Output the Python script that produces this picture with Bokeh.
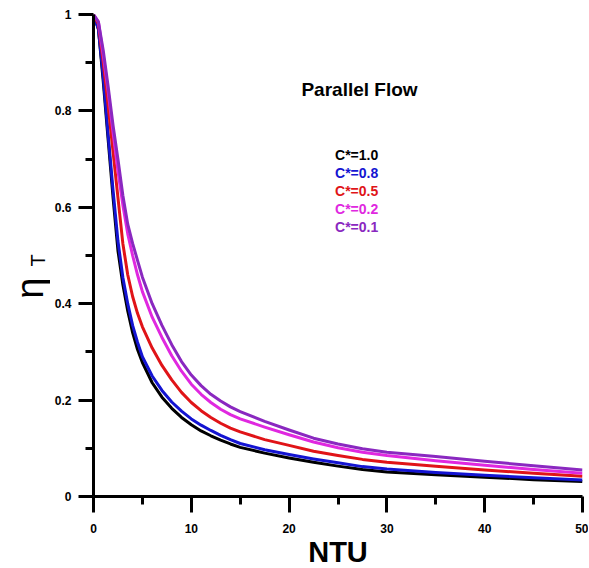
import math
from bokeh.plotting import figure
from bokeh.models import Range1d, FixedTicker, Label
from bokeh.layouts import row
from bokeh.embed import file_html
from bokeh.resources import INLINE

# ---- data ----
ntu = [0, 0.5, 1, 1.5, 2, 2.5, 3, 3.5, 4, 4.5, 5, 6, 7, 8, 9, 10, 11, 12, 13, 14, 15,
       17.5, 20, 22.5, 25, 27.5, 30, 35, 40, 45, 50]
eta_c10 = [1.0, 0.97, 0.86, 0.74, 0.62, 0.51, 0.44, 0.385, 0.34, 0.305, 0.278, 0.236, 0.206, 0.183, 0.164, 0.149, 0.136, 0.126, 0.117, 0.109, 0.102,
           0.090, 0.080, 0.071, 0.063, 0.056, 0.051, 0.045, 0.040, 0.035, 0.031]
eta_c08 = [1.0, 0.97, 0.87, 0.75, 0.635, 0.53, 0.455, 0.40, 0.355, 0.32, 0.29, 0.25, 0.22, 0.196, 0.177, 0.161, 0.148, 0.137, 0.127, 0.118, 0.110,
           0.097, 0.087, 0.078, 0.070, 0.062, 0.057, 0.050, 0.044, 0.039, 0.034]
eta_c05 = [1.0, 0.98, 0.90, 0.81, 0.715, 0.62, 0.525, 0.46, 0.415, 0.38, 0.352, 0.308, 0.272, 0.242, 0.216, 0.195, 0.178, 0.164, 0.152, 0.142, 0.134,
           0.118, 0.106, 0.094, 0.085, 0.077, 0.071, 0.063, 0.055, 0.048, 0.042]
eta_c02 = [1.0, 0.985, 0.915, 0.84, 0.755, 0.675, 0.605, 0.545, 0.50, 0.46, 0.425, 0.372, 0.33, 0.292, 0.26, 0.233, 0.212, 0.195, 0.181, 0.17, 0.161,
           0.144, 0.128, 0.113, 0.101, 0.092, 0.085, 0.074, 0.065, 0.056, 0.048]
eta_c01 = [1.0, 0.985, 0.925, 0.85, 0.77, 0.70, 0.625, 0.565, 0.525, 0.49, 0.455, 0.40, 0.355, 0.315, 0.28, 0.252, 0.23, 0.212, 0.198, 0.186, 0.176,
           0.156, 0.138, 0.121, 0.109, 0.099, 0.092, 0.083, 0.073, 0.064, 0.055]

series_labels = ["C*=1.0", "C*=0.8", "C*=0.5", "C*=0.2", "C*=0.1"]
series_colors = ["#000000", "#1414d2", "#e01418", "#e028e0", "#8a28c0"]
x_ticks = [0, 10, 20, 30, 40, 50]
x_minor = [5, 15, 25, 35, 45]
y_ticks = [0, 0.2, 0.4, 0.6, 0.8, 1.0]
y_minor = [0.1, 0.3, 0.5, 0.7, 0.9]
y_tick_labels = ["0", "0.2", "0.4", "0.6", "0.8", "1"]

FONT = "Liberation Sans"

# ---- main plot ----
p = figure(frame_width=489, frame_height=482, x_range=Range1d(0, 50), y_range=Range1d(0, 1),
           output_backend="svg", toolbar_location=None,
           min_border_left=43, min_border_right=6, min_border_top=14, min_border_bottom=70)
p.outline_line_color = None
p.xgrid.visible = False
p.ygrid.visible = False
p.background_fill_color = "white"
p.border_fill_color = "white"

series = [eta_c10, eta_c08, eta_c05, eta_c02, eta_c01]
for ys, col in zip(series, series_colors):
    p.line(ntu, ys, line_color=col, line_width=3, line_join="round")

xa = p.xaxis[0]
xa.ticker = FixedTicker(ticks=x_ticks, minor_ticks=x_minor)
xa.axis_line_width = 3
xa.major_tick_line_width = 3
xa.minor_tick_line_width = 3
xa.major_tick_out = 16
xa.major_tick_in = 0
xa.minor_tick_out = 8
xa.minor_tick_in = 0
xa.major_label_text_font = FONT
xa.major_label_text_font_style = "bold"
xa.major_label_text_font_size = "12px"
xa.major_label_text_color = "black"
xa.major_label_standoff = 11
xa.axis_label = "NTU"
xa.axis_label_text_font = FONT
xa.axis_label_text_font_style = "bold"
xa.axis_label_text_font_size = "29px"
xa.axis_label_text_color = "black"
xa.axis_label_standoff = 0

ya = p.yaxis[0]
ya.ticker = FixedTicker(ticks=y_ticks, minor_ticks=y_minor)
ya.axis_line_width = 3
ya.major_tick_line_width = 3
ya.minor_tick_line_width = 3
ya.major_tick_out = 15
ya.major_tick_in = 0
ya.minor_tick_out = 8
ya.minor_tick_in = 0
ya.major_label_text_font = FONT
ya.major_label_text_font_style = "bold"
ya.major_label_text_font_size = "12px"
ya.major_label_text_color = "black"
ya.major_label_standoff = 7
ya.major_label_overrides = {t: s for t, s in zip(y_ticks, y_tick_labels)}

p.add_layout(Label(x=27.2, y=0.844, text="Parallel Flow", text_font=FONT, text_color="black",
                   text_font_style="bold", text_font_size="19px",
                   text_align="center", text_baseline="middle"))
legend_y = [0.7075, 0.671, 0.634, 0.597, 0.559]
for lab, col, ly in zip(series_labels, series_colors, legend_y):
    p.add_layout(Label(x=24.7, y=ly, text=lab, text_font=FONT, text_font_style="bold",
                       text_font_size="14px", text_color=col,
                       text_align="left", text_baseline="middle"))

# ---- strip holding the y-axis title (eta with subscript T) ----
q = figure(frame_width=50, frame_height=482, x_range=Range1d(0, 50), y_range=Range1d(0, 1),
           output_backend="svg", toolbar_location=None, x_axis_type=None, y_axis_type=None,
           min_border_left=0, min_border_right=0, min_border_top=14, min_border_bottom=70)
q.outline_line_color = None
q.xgrid.visible = False
q.ygrid.visible = False
q.add_layout(Label(x=29, y=0.432, text="η", text_font=FONT, text_font_size="38px", text_color="black",
                   angle=math.pi / 2, text_align="center", text_baseline="middle"))
q.add_layout(Label(x=37, y=0.49, text="T", text_font=FONT, text_font_size="20px", text_color="black",
                   angle=math.pi / 2, text_align="center", text_baseline="middle"))

layout = row(q, p)
open("out.html", "w").write(file_html(layout, INLINE))
